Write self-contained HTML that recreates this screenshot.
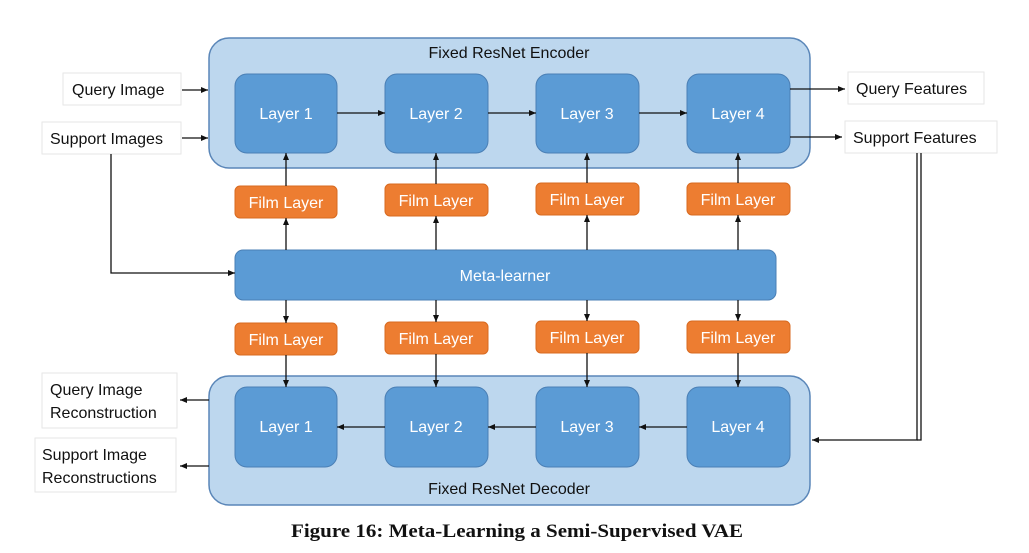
<!DOCTYPE html>
<html><head><style>body{margin:0;background:#fff}svg{display:block}</style></head><body>
<svg width="1029" height="553" xmlns="http://www.w3.org/2000/svg" font-family="Liberation Sans, sans-serif">
<defs><marker id="a" markerWidth="8" markerHeight="8" refX="7" refY="4" orient="auto" markerUnits="userSpaceOnUse"><path d="M0,1 L7,4 L0,7z" fill="#111"/></marker></defs>
<g stroke="#5a86b8" stroke-width="1.5">
<rect x="209" y="38" width="601" height="130" rx="20" fill="#bdd7ee"/>
<rect x="209" y="376" width="601" height="129" rx="20" fill="#bdd7ee"/>
</g>
<text x="509" y="58" font-size="16" text-anchor="middle" fill="#111">Fixed ResNet Encoder</text>
<text x="509" y="494" font-size="16" text-anchor="middle" fill="#111">Fixed ResNet Decoder</text>
<g fill="#5b9bd5" stroke="#4a7fb5" stroke-width="1">
<rect x="235" y="74" width="102" height="79" rx="12"/><rect x="385" y="74" width="103" height="79" rx="12"/><rect x="536" y="74" width="103" height="79" rx="12"/><rect x="687" y="74" width="103" height="79" rx="12"/>
<rect x="235" y="387" width="102" height="80" rx="12"/><rect x="385" y="387" width="103" height="80" rx="12"/><rect x="536" y="387" width="103" height="80" rx="12"/><rect x="687" y="387" width="103" height="80" rx="12"/>
<rect x="235" y="250" width="541" height="50" rx="8"/>
</g>
<g fill="#ed7d31" stroke="#d86a20" stroke-width="1">
<rect x="235" y="186" width="102" height="32" rx="5"/><rect x="385" y="184" width="103" height="32" rx="5"/><rect x="536" y="183" width="103" height="32" rx="5"/><rect x="687" y="183" width="103" height="32" rx="5"/>
<rect x="235" y="323" width="102" height="32" rx="5"/><rect x="385" y="322" width="103" height="32" rx="5"/><rect x="536" y="321" width="103" height="32" rx="5"/><rect x="687" y="321" width="103" height="32" rx="5"/>
</g>
<g fill="#fff" font-size="16" text-anchor="middle">
<text x="286" y="119">Layer 1</text><text x="436" y="119">Layer 2</text><text x="587" y="119">Layer 3</text><text x="738" y="119">Layer 4</text>
<text x="286" y="432">Layer 1</text><text x="436" y="432">Layer 2</text><text x="587" y="432">Layer 3</text><text x="738" y="432">Layer 4</text>
<text x="505" y="281">Meta-learner</text>
<text x="286" y="208">Film Layer</text><text x="436" y="206">Film Layer</text><text x="587" y="205">Film Layer</text><text x="738" y="205">Film Layer</text>
<text x="286" y="345">Film Layer</text><text x="436" y="344">Film Layer</text><text x="587" y="343">Film Layer</text><text x="738" y="343">Film Layer</text>
</g>
<g fill="#fff" stroke="#e6e6e6">
<rect x="63" y="73" width="118" height="32"/><rect x="42" y="122" width="139" height="32"/>
<rect x="848" y="72" width="136" height="32"/><rect x="845" y="121" width="152" height="32"/>
<rect x="42" y="373" width="135" height="55"/><rect x="35" y="438" width="141" height="54"/>
</g>
<g fill="#111" font-size="16">
<text x="72" y="95">Query Image</text><text x="50" y="144">Support Images</text>
<text x="856" y="94">Query Features</text><text x="853" y="143">Support Features</text>
<text x="50" y="395">Query Image</text><text x="50" y="418">Reconstruction</text>
<text x="42" y="460">Support Image</text><text x="42" y="483">Reconstructions</text>
</g>
<g stroke="#111" stroke-width="1.3" fill="none" marker-end="url(#a)">
<path d="M182 90H208"/><path d="M182 138H208"/>
<path d="M337 113H385"/><path d="M488 113H536"/><path d="M639 113H687"/>
<path d="M790 89H845"/><path d="M790 137H842"/>
<path d="M286 186V153"/><path d="M436 184V153"/><path d="M587 183V153"/><path d="M738 183V153"/>
<path d="M286 250V218"/><path d="M436 250V216"/><path d="M587 250V215"/><path d="M738 250V215"/>
<path d="M286 300V323"/><path d="M436 300V322"/><path d="M587 300V321"/><path d="M738 300V321"/>
<path d="M286 355V387"/><path d="M436 354V387"/><path d="M587 353V387"/><path d="M738 353V387"/>
<path d="M687 427H639"/><path d="M536 427H488"/><path d="M385 427H337"/>
<path d="M111 154V273H235"/>
<path d="M209 400H180"/><path d="M209 466H180"/>
<path d="M917 153V440H812"/>
</g>
<path d="M921 153V440H917" stroke="#111" stroke-width="1.3" fill="none"/>
<text x="291" y="537" font-family="Liberation Serif, serif" font-weight="bold" font-size="19" textLength="452" lengthAdjust="spacingAndGlyphs" fill="#111">Figure 16: Meta-Learning a Semi-Supervised VAE</text>
</svg>
</body></html>
